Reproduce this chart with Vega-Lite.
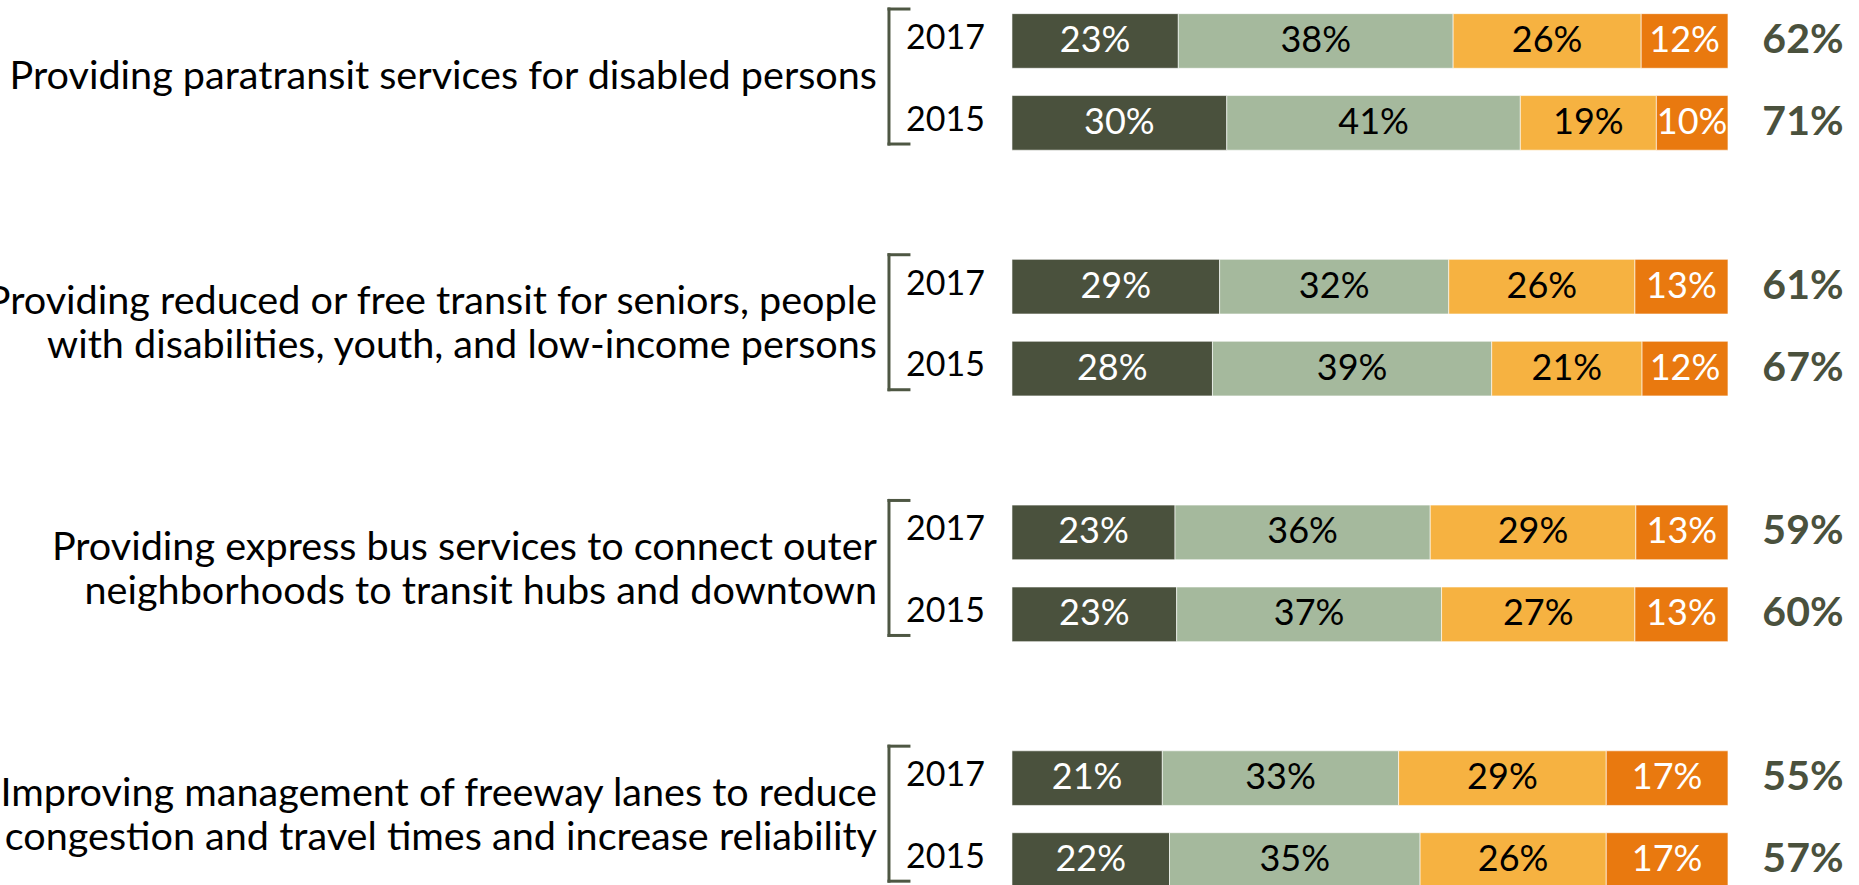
{
  "$schema": "https://vega.github.io/schema/vega-lite/v6.json",
  "width": 1859,
  "height": 901,
  "autosize": {"type": "none"},
  "padding": 0,
  "background": "white",
  "config": {"view": {"stroke": null}, "axis": {"disable": true}, "text": {"font": "Lato"}},
  "datasets": {
    "bars": [
      {"row": "A2017", "cat": "Very", "rank": 1, "v": 23},
      {"row": "A2017", "cat": "Somewhat", "rank": 2, "v": 38},
      {"row": "A2017", "cat": "NotToo", "rank": 3, "v": 26},
      {"row": "A2017", "cat": "NotAtAll", "rank": 4, "v": 12},
      {"row": "A2015", "cat": "Very", "rank": 1, "v": 30},
      {"row": "A2015", "cat": "Somewhat", "rank": 2, "v": 41},
      {"row": "A2015", "cat": "NotToo", "rank": 3, "v": 19},
      {"row": "A2015", "cat": "NotAtAll", "rank": 4, "v": 10},
      {"row": "B2017", "cat": "Very", "rank": 1, "v": 29},
      {"row": "B2017", "cat": "Somewhat", "rank": 2, "v": 32},
      {"row": "B2017", "cat": "NotToo", "rank": 3, "v": 26},
      {"row": "B2017", "cat": "NotAtAll", "rank": 4, "v": 13},
      {"row": "B2015", "cat": "Very", "rank": 1, "v": 28},
      {"row": "B2015", "cat": "Somewhat", "rank": 2, "v": 39},
      {"row": "B2015", "cat": "NotToo", "rank": 3, "v": 21},
      {"row": "B2015", "cat": "NotAtAll", "rank": 4, "v": 12},
      {"row": "C2017", "cat": "Very", "rank": 1, "v": 23},
      {"row": "C2017", "cat": "Somewhat", "rank": 2, "v": 36},
      {"row": "C2017", "cat": "NotToo", "rank": 3, "v": 29},
      {"row": "C2017", "cat": "NotAtAll", "rank": 4, "v": 13},
      {"row": "C2015", "cat": "Very", "rank": 1, "v": 23},
      {"row": "C2015", "cat": "Somewhat", "rank": 2, "v": 37},
      {"row": "C2015", "cat": "NotToo", "rank": 3, "v": 27},
      {"row": "C2015", "cat": "NotAtAll", "rank": 4, "v": 13},
      {"row": "D2017", "cat": "Very", "rank": 1, "v": 21},
      {"row": "D2017", "cat": "Somewhat", "rank": 2, "v": 33},
      {"row": "D2017", "cat": "NotToo", "rank": 3, "v": 29},
      {"row": "D2017", "cat": "NotAtAll", "rank": 4, "v": 17},
      {"row": "D2015", "cat": "Very", "rank": 1, "v": 22},
      {"row": "D2015", "cat": "Somewhat", "rank": 2, "v": 35},
      {"row": "D2015", "cat": "NotToo", "rank": 3, "v": 26},
      {"row": "D2015", "cat": "NotAtAll", "rank": 4, "v": 17}
    ],
    "rows": [
      {"row": "A2017", "year": "2017", "total": "62%"},
      {"row": "A2015", "year": "2015", "total": "71%"},
      {"row": "B2017", "year": "2017", "total": "61%"},
      {"row": "B2015", "year": "2015", "total": "67%"},
      {"row": "C2017", "year": "2017", "total": "59%"},
      {"row": "C2015", "year": "2015", "total": "60%"},
      {"row": "D2017", "year": "2017", "total": "55%"},
      {"row": "D2015", "year": "2015", "total": "57%"}
    ],
    "groups": [
      {"top": "A2017", "bot": "A2015", "lines": 1, "label": ["Providing paratransit services for disabled persons"]},
      {"top": "B2017", "bot": "B2015", "lines": 2, "label": ["Providing reduced or free transit for seniors, people", "with disabilities, youth, and low-income persons"]},
      {"top": "C2017", "bot": "C2015", "lines": 2, "label": ["Providing express bus services to connect outer", "neighborhoods to transit hubs and downtown"]},
      {"top": "D2017", "bot": "D2015", "lines": 2, "label": ["Improving management of freeway lanes to reduce", "congestion and travel times and increase reliability"]}
    ]
  },
  "layer": [
    {
      "data": {"name": "bars"},
      "mark": {"type": "bar", "stroke": "#ffffff", "strokeWidth": 0.6},
      "encoding": {
        "y": {"field": "row", "type": "nominal", "axis": null,
          "scale": {"domain": ["A2017", "A2015", "A_", "B2017", "B2015", "B_", "C2017", "C2015", "C_", "D2017", "D2015"], "paddingInner": 0.333, "paddingOuter": 0.1667}},
        "x": {"field": "v", "type": "quantitative", "stack": "normalize", "axis": null,
          "scale": {"domain": [-1.4134, 1.183], "nice": false, "zero": false}},
        "color": {"field": "cat", "type": "nominal", "legend": null,
          "scale": {"domain": ["Very", "Somewhat", "NotToo", "NotAtAll"], "range": ["#4a513d", "#a5b99d", "#f6b241", "#e9790f"]}},
        "order": {"field": "rank", "type": "quantitative"}
      }
    },
    {
      "data": {"name": "bars"},
      "transform": [{"calculate": "datum.v + '%'", "as": "label"}],
      "mark": {"type": "text", "font": "Lato", "fontSize": 36, "baseline": "middle", "align": "center"},
      "encoding": {
        "y": {"field": "row", "type": "nominal", "axis": null},
        "x": {"field": "v", "type": "quantitative", "stack": "normalize", "bandPosition": 0.5, "axis": null},
        "order": {"field": "rank", "type": "quantitative"},
        "detail": {"field": "cat"},
        "text": {"field": "label"},
        "color": {"condition": {"test": "datum.cat === 'Very' || datum.cat === 'NotAtAll'", "value": "#ffffff"}, "value": "#000000"}
      }
    },
    {
      "data": {"name": "rows"},
      "mark": {"type": "text", "font": "Lato", "fontSize": 34, "baseline": "middle", "align": "left", "color": "#000000"},
      "encoding": {
        "y": {"field": "row", "type": "nominal", "bandPosition": 0.46, "axis": null},
        "x": {"datum": -0.148},
        "text": {"field": "year"}
      }
    },
    {
      "data": {"name": "rows"},
      "mark": {"type": "text", "font": "Lato", "fontSize": 41, "fontWeight": "bold", "baseline": "middle", "align": "center", "color": "#4a513d"},
      "encoding": {
        "y": {"field": "row", "type": "nominal", "axis": null},
        "x": {"datum": 1.1047},
        "text": {"field": "total"}
      }
    },
    {
      "data": {"name": "groups"},
      "transform": [{"filter": "datum.lines === 1"}],
      "mark": {"type": "text", "font": "Lato", "fontSize": 39.6, "lineHeight": 44, "baseline": "middle", "align": "right", "color": "#000000"},
      "encoding": {
        "y": {"field": "top", "type": "nominal", "bandPosition": 1.16, "axis": null},
        "x": {"datum": -0.18855},
        "text": {"field": "label"}
      }
    },
    {
      "data": {"name": "groups"},
      "transform": [{"filter": "datum.lines === 2"}],
      "mark": {"type": "text", "font": "Lato", "fontSize": 39.6, "lineHeight": 44, "baseline": "middle", "align": "right", "color": "#000000"},
      "encoding": {
        "y": {"field": "top", "type": "nominal", "bandPosition": 0.783, "axis": null},
        "x": {"datum": -0.18855},
        "text": {"field": "label"}
      }
    },
    {
      "data": {"name": "groups"},
      "mark": {"type": "rule", "strokeWidth": 3, "color": "#4e5743", "strokeCap": "square"},
      "encoding": {
        "y": {"field": "top", "type": "nominal", "bandPosition": -0.085, "axis": null},
        "y2": {"field": "bot", "bandPosition": 0.887},
        "x": {"datum": -0.1718}
      }
    },
    {
      "data": {"name": "groups"},
      "mark": {"type": "rule", "strokeWidth": 3, "color": "#4e5743", "strokeCap": "square"},
      "encoding": {
        "y": {"field": "top", "type": "nominal", "bandPosition": -0.085, "axis": null},
        "x": {"datum": -0.1718},
        "x2": {"datum": -0.1439}
      }
    },
    {
      "data": {"name": "groups"},
      "mark": {"type": "rule", "strokeWidth": 3, "color": "#4e5743", "strokeCap": "square"},
      "encoding": {
        "y": {"field": "bot", "type": "nominal", "bandPosition": 0.887, "axis": null},
        "x": {"datum": -0.1718},
        "x2": {"datum": -0.1439}
      }
    }
  ]
}
